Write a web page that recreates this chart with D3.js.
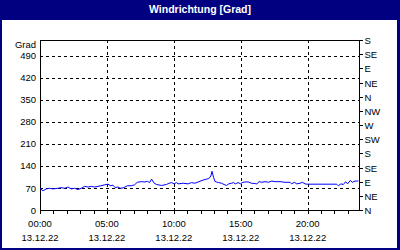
<!DOCTYPE html>
<html><head><meta charset="utf-8">
<script src="https://cdn.jsdelivr.net/npm/d3@7"></script>
<style>
html,body{margin:0;padding:0;background:#fff;}
svg text{font-family:"Liberation Sans",Arial,sans-serif;}
</style></head>
<body>
<svg id="c" width="400" height="250"></svg>
<script>
const title = "Windrichtung [Grad]";
const yUnit = "Grad";
const dateLabel = "13.12.22";
const times = ["00:00","00:13","00:28","00:43","00:58","01:21","01:34","01:51","02:05","02:20","02:35","02:50","03:05","03:20","03:35","03:50","04:05","04:20","04:33","04:50","05:04","05:17","05:27","05:37","05:49","06:01","06:16","06:31","06:49","07:04","07:16","07:34","07:50","08:02","08:11","08:20","08:32","08:43","09:05","09:27","09:38","09:50","10:01","10:12","10:19","10:42","11:04","11:19","11:34","11:49","12:11","12:26","12:37","12:46","12:51","12:58","13:04","13:11","13:21","13:34","13:45","13:56","14:06","14:18","14:27","14:36","14:48","15:00","15:06","15:18","15:33","15:48","16:03","16:12","16:22","16:34","16:49","17:04","17:19","17:34","17:56","18:18","18:41","18:48","19:00","19:11","19:26","19:36","19:48","19:56","22:10","22:17","22:29","22:40","22:50","22:59","23:11","23:20","23:32","23:47"];
const values = [69,61,67,69,67,69,71,69,73,67,69,65,69,75,73,75,73,75,77,80,82,77,79,71,73,69,71,77,77,80,88,90,89,91,87,98,85,81,78,81,85,87,83,87,83,85,83,87,85,89,95,98,100,108,123,104,91,89,87,85,81,78,83,85,87,83,87,83,87,89,89,85,84,83,90,88,90,88,92,90,90,88,88,83,88,83,85,88,83,82,82,77,83,81,90,83,94,88,92,92];
const leftTicks = [0,70,140,210,280,350,420,490];
const rightTicks = [0,45,90,135,180,225,270,315,360,405,450,495,540];
const rightLabels = ["N","NE","E","SE","S","SW","W","NW","N","NE","E","SE","S"];
const xLabelTimes = ["00:00","05:00","10:00","15:00","20:00"];
const xDomain = ["00:00","23:50"];
const yDomain = [0,540];

const FS = "9.5px";
const parse = d3.timeParse("%Y-%m-%d %H:%M");
const toDate = t => parse("2022-12-13 " + t);
const navy = "#000080";
const svg = d3.select("#c");

// frame / title bar
svg.append("rect").attr("x",0).attr("y",0).attr("width",400).attr("height",250).attr("fill",navy);
svg.append("rect").attr("x",2).attr("y",20).attr("width",395).attr("height",228).attr("fill","#ffffff");
svg.append("text").attr("x",200).attr("y",13).attr("text-anchor","middle")
  .attr("fill","#fff").attr("font-weight","bold").attr("font-size","10.5px").text(title);

const L=40, R=359, T=40, B=210;
const x = d3.scaleTime().domain(xDomain.map(toDate)).range([L,R]);
const y = d3.scaleLinear().domain(yDomain).range([B,T]);
const yR = d3.scaleLinear().domain([0,540]).range([B,T]);

const g = svg.append("g").attr("shape-rendering","crispEdges");
// horizontal grid
g.selectAll(".hg").data(leftTicks.filter(v=>v>0)).join("line")
  .attr("x1",L).attr("x2",R).attr("y1",d=>Math.round(y(d))+0.5).attr("y2",d=>Math.round(y(d))+0.5)
  .attr("stroke","#000").attr("stroke-dasharray","3,3");
// vertical grid
const xMajor = xLabelTimes.map(toDate);
g.selectAll(".vg").data(xMajor.slice(1)).join("line")
  .attr("x1",d=>Math.round(x(d))+0.5).attr("x2",d=>Math.round(x(d))+0.5).attr("y1",T).attr("y2",B+3)
  .attr("stroke","#000").attr("stroke-dasharray","3,3");

// bottom axis with hourly ticks
const xAxis = d3.axisBottom(x).ticks(d3.timeHour.every(1)).tickSize(3).tickFormat("");
const ax = svg.append("g").attr("transform",`translate(0,${B+0.5})`).call(xAxis);
ax.select(".domain").remove();
ax.selectAll("line").attr("stroke","#000").attr("shape-rendering","crispEdges");
ax.selectAll(".tick").attr("transform",d=>`translate(${Math.round(x(d))+0.5},0)`);

// axis frame lines
g.append("line").attr("x1",L).attr("x2",R+1).attr("y1",B+0.5).attr("y2",B+0.5).attr("stroke","#000");
g.append("line").attr("x1",L).attr("x2",R+1).attr("y1",T+0.5).attr("y2",T+0.5).attr("stroke","#000");
g.append("line").attr("x1",L+0.5).attr("x2",L+0.5).attr("y1",T).attr("y2",B+1).attr("stroke","#000");
g.append("line").attr("x1",R+0.5).attr("x2",R+0.5).attr("y1",T).attr("y2",B+1).attr("stroke","#000");

// right axis ticks and labels
const rAxis = d3.axisRight(yR).tickValues(rightTicks).tickSize(3).tickPadding(2)
  .tickFormat((d,i)=>rightLabels[i]);
const ra = svg.append("g").attr("transform",`translate(${R+0.5},0)`).call(rAxis);
ra.select(".domain").remove();
ra.selectAll(".tick").attr("transform",d=>`translate(0,${Math.round(yR(d))+0.5})`);
ra.selectAll("line").attr("stroke","#000").attr("shape-rendering","crispEdges");
ra.selectAll("text").attr("font-size",FS).attr("fill","#000").attr("font-family","Liberation Sans, Arial, sans-serif");

// left axis labels
const lAxis = d3.axisLeft(y).tickValues(leftTicks).tickSize(0).tickPadding(4);
const la = svg.append("g").attr("transform",`translate(${L},0)`).call(lAxis);
la.select(".domain").remove();
la.selectAll("text").attr("font-size",FS).attr("fill","#000").attr("font-family","Liberation Sans, Arial, sans-serif");
svg.append("text").attr("x",36).attr("y",48).attr("text-anchor","end").attr("font-size",FS).text(yUnit);

// bottom labels
const xl = svg.append("g");
xl.selectAll(".t1").data(xMajor).join("text").attr("x",d=>x(d)).attr("y",227)
  .attr("text-anchor","middle").attr("font-size",FS).text(d=>d3.timeFormat("%H:%M")(d));
xl.selectAll(".t2").data(xMajor).join("text").attr("x",d=>x(d)).attr("y",241)
  .attr("text-anchor","middle").attr("font-size",FS).text(dateLabel);

// data line
const data = times.map((t,i)=>({t:toDate(t), v:values[i]}));
svg.append("path").datum(data)
  .attr("d", d3.line().x(d=>x(d.t)).y(d=>y(d.v)))
  .attr("fill","none").attr("stroke","#0000ff").attr("stroke-width",1);
</script>
</body></html>
